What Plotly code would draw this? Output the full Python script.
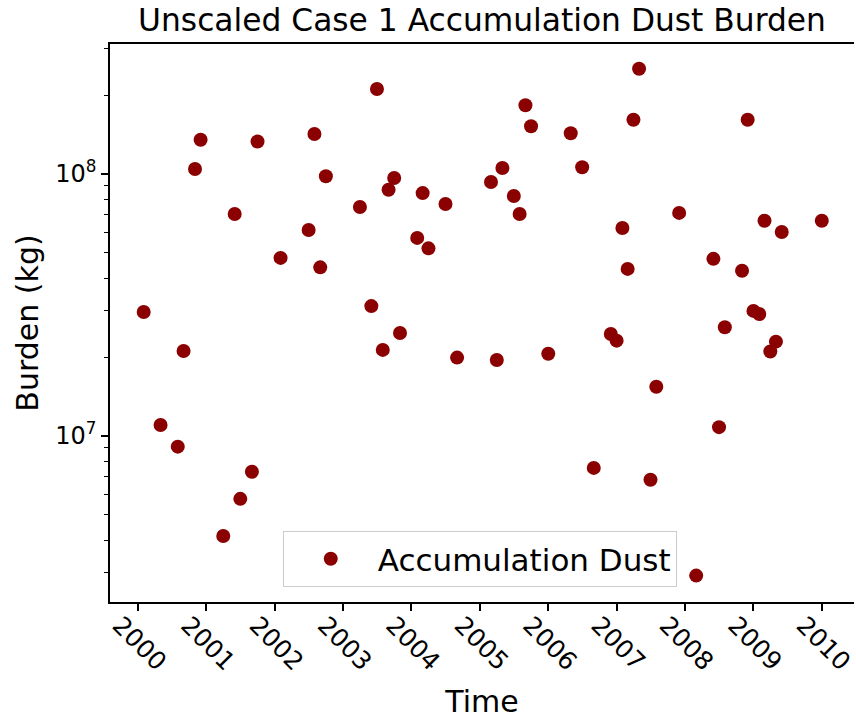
import plotly.graph_objects as go

# Monthly sample dates (first of month) that have an accumulation-mode dust burden value
dates = [
    "2000-02-01", "2000-05-01", "2000-08-01", "2000-09-01", "2000-11-01", "2000-12-01",
    "2001-04-01", "2001-06-01", "2001-07-01", "2001-09-01", "2001-10-01",
    "2002-02-01", "2002-07-01", "2002-08-01", "2002-09-01", "2002-10-01",
    "2003-04-01", "2003-06-01", "2003-07-01", "2003-08-01", "2003-09-01", "2003-10-01", "2003-11-01",
    "2004-02-01", "2004-03-01", "2004-04-01", "2004-07-01", "2004-09-01",
    "2005-03-01", "2005-04-01", "2005-05-01", "2005-07-01", "2005-08-01", "2005-09-01", "2005-10-01",
    "2006-01-01", "2006-05-01", "2006-07-01", "2006-09-01", "2006-12-01",
    "2007-01-01", "2007-02-01", "2007-03-01", "2007-04-01", "2007-05-01", "2007-07-01", "2007-08-01", "2007-12-01",
    "2008-03-01", "2008-06-01", "2008-07-01", "2008-08-01", "2008-11-01", "2008-12-01",
    "2009-01-01", "2009-02-01", "2009-03-01", "2009-04-01", "2009-05-01", "2009-06-01",
    "2010-01-01",
]

# Burden in kg
burden_kg = [
    2.97e7, 1.10e7, 9.1e6, 2.11e7, 1.045e8, 1.35e8,
    4.15e6, 7.03e7, 5.75e6, 7.3e6, 1.33e8,
    4.78e7, 6.11e7, 1.42e8, 4.4e7, 9.8e7,
    7.48e7, 3.13e7, 2.11e8, 2.13e7, 8.7e7, 9.65e7, 2.47e7,
    5.7e7, 8.45e7, 5.2e7, 7.68e7, 1.99e7,
    9.32e7, 1.95e7, 1.054e8, 8.24e7, 7.03e7, 1.83e8, 1.52e8,
    2.06e7, 1.43e8, 1.06e8, 7.55e6, 2.45e7,
    2.31e7, 6.22e7, 4.34e7, 1.61e8, 2.52e8, 6.8e6, 1.54e7, 7.1e7,
    2.93e6, 4.74e7, 1.08e7, 2.6e7, 4.27e7, 1.61e8,
    3.0e7, 2.92e7, 6.63e7, 2.1e7, 2.29e7, 6.0e7,
    6.63e7,
]

year_ticks = [f"{y}-01-01" for y in range(2000, 2011)]
year_labels = [str(y) for y in range(2000, 2011)]

major_y = [1e7, 1e8]
major_y_labels = ["10<sup>7</sup>", "10<sup>8</sup>"]
minor_y = [m * 10 ** e for e in (6, 7, 8) for m in range(2, 10)]

FONT = "DejaVu Sans"

fig = go.Figure()
fig.add_trace(go.Scatter(
    x=dates, y=burden_kg, mode="markers", name="Accumulation Dust",
    marker=dict(color="#8b0000", size=14, line=dict(width=0)),
))

fig.update_layout(
    width=856, height=719,
    margin=dict(l=110, r=0, t=44, b=117),
    paper_bgcolor="white", plot_bgcolor="white",
    font=dict(family=FONT, color="black"),
    title=dict(text="Unscaled Case 1 Accumulation Dust Burden",
               font=dict(size=31.3), x=0.5, xref="paper",
               y=1 - 20 / 719, yanchor="middle"),
    showlegend=True,
    legend=dict(x=0.497, xanchor="center", y=0.077, yanchor="middle",
                bgcolor="rgba(255,255,255,0.8)", bordercolor="#cccccc",
                borderwidth=1, font=dict(size=31), itemwidth=84),
)

fig.update_xaxes(
    type="date", range=["1999-08-05", "2010-06-22"],
    tickmode="array", tickvals=year_ticks, ticktext=year_labels,
    tickangle=45, tickfont=dict(size=25), ticklabelshift=-18,
    ticklabelstandoff=-10, ticklabeloverflow="allow",
    ticks="outside", ticklen=7, tickwidth=1.5, tickcolor="black",
    showline=True, linecolor="black", linewidth=1.5, mirror=True,
    showgrid=False, zeroline=False,
    title=dict(text="Time", font=dict(size=30), standoff=16),
)

fig.update_yaxes(
    type="log", range=[6.366, 8.496],
    tickmode="array", tickvals=major_y, ticktext=major_y_labels,
    tickfont=dict(size=24),
    ticks="outside", ticklen=7, tickwidth=1.5, tickcolor="black",
    minor=dict(tickmode="array", tickvals=minor_y, ticks="outside",
               ticklen=4, tickwidth=1.2, tickcolor="black", showgrid=False),
    showline=True, linecolor="black", linewidth=1.5, mirror=False,
    showgrid=False, zeroline=False,
    title=dict(text="Burden (kg)", font=dict(size=30), standoff=8),
)

fig.write_html("out.html")
